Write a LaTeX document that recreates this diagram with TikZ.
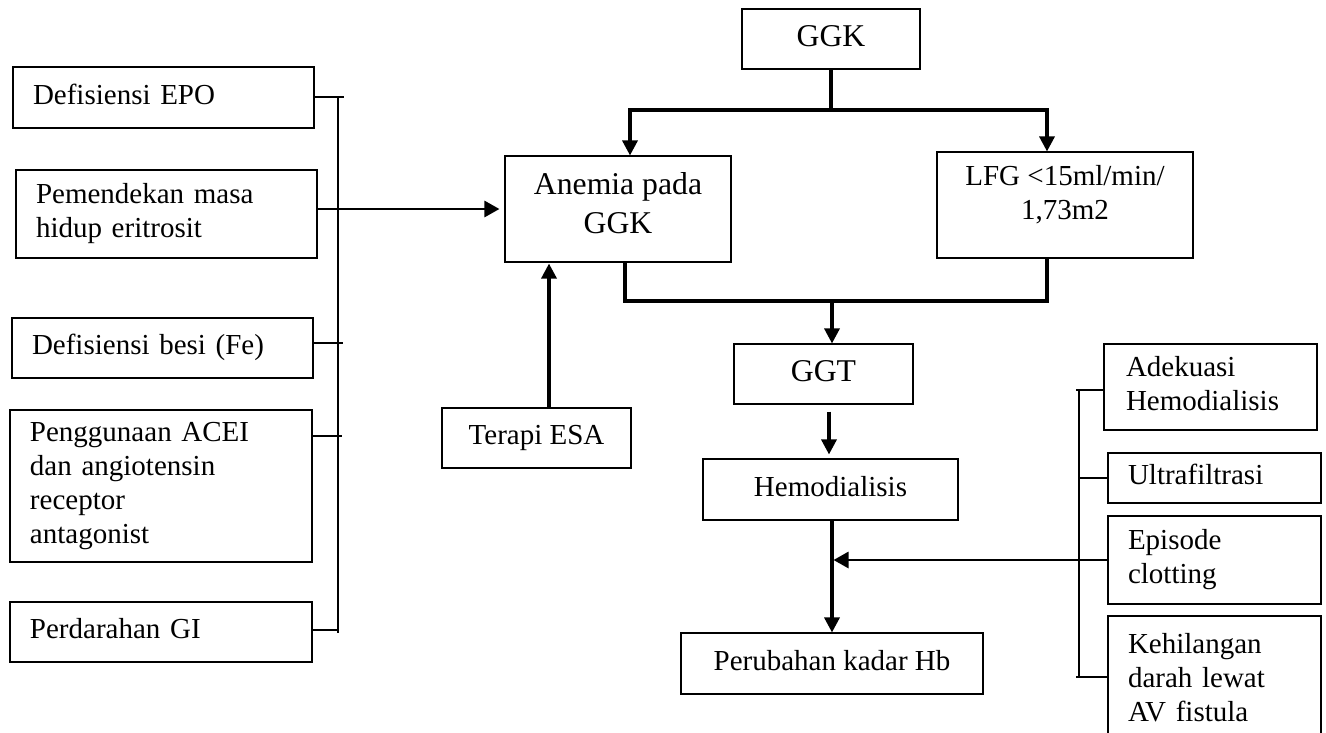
\documentclass[tikz,border=0pt]{standalone}
\usepackage{fontspec}
\setmainfont{Liberation Serif}
\usetikzlibrary{arrows.meta,calc}
\newcommand\fmain{\fontsize{29}{34}\selectfont}
\newcommand\fbig{\fontsize{31.7}{39}\selectfont}
\tikzset{
  boxbase/.style={draw, line width=1.1pt, inner ysep=0pt,
    execute at begin node=\strut, execute at end node=\strut},
  lbox/.style n args={3}{boxbase, font=\fmain, align=left, inner xsep=20pt,
    text width=#1, minimum height=#2, minimum width=#3},
  cbox/.style n args={2}{boxbase, font=\fmain, align=center, inner xsep=2pt,
    minimum width=#1, minimum height=#2},
  bbox/.style n args={2}{boxbase, font=\fbig, align=center, inner xsep=2pt,
    minimum width=#1, minimum height=#2},
  txt/.style={font=\fmain, align=center, inner sep=0pt,
    execute at begin node=\strut, execute at end node=\strut},
  thk/.style={line width=3.3pt},
  thkarrow/.style={line width=3.3pt, -{Triangle[length=15pt,width=15pt]}},
  hzarrow/.style={line width=2.8pt, -{Triangle[length=15pt,width=16pt]}},
  bus/.style={line width=1.8pt},
}
\begin{document}
\begin{tikzpicture}[x=1pt,y=-1pt]
\path[use as bounding box, clip] (0,0) rectangle (1326,732);
\fill[white] (0,0) rectangle (1326,732);

% left causes
\node[lbox={261pt}{61pt}{301pt}] (epo) at (163.5,97.5) {Defisiensi EPO};
\node[lbox={261pt}{88pt}{301pt}] (pem) at (166.5,214) {Pemendekan masa\\hidup eritrosit};
\node[lbox={261pt}{60pt}{301pt}] (besi) at (162.5,348) {Defisiensi besi (Fe)};
\node[lbox={262pt}{152pt}{302pt}] (ace) at (161,486) {Penggunaan ACEI\\dan angiotensin\\receptor\\antagonist};
\node[lbox={262pt}{60pt}{302pt}] (perd) at (161,632) {Perdarahan GI};

% centre
\node[bbox={178pt}{60pt}] (ggk) at (831,39) {GGK};
\node[bbox={226pt}{106pt}] (ane) at (618,209) {Anemia pada\\GGK};
\node[draw, line width=1.1pt, minimum width=256pt, minimum height=106pt, inner sep=0pt] (lfg) at (1065,205) {};
\node[txt] (lfgtxt) at (1065,198) {LFG <15ml/min/\\1,73m2};
\node[cbox={189pt}{60pt}] (esa) at (536.5,438) {Terapi ESA};
\node[bbox={179pt}{60pt}] (ggt) at (823.5,374) {GGT};
\node[cbox={255pt}{61pt}] (hd) at (830.5,489.5) {Hemodialisis};
\node[cbox={302pt}{61pt}] (hb) at (832,663.5) {Perubahan kadar Hb};

% right factors
\node[lbox={169pt}{86pt}{213pt}, inner xsep=22pt] (adk) at (1210.5,387) {Adekuasi\\Hemodialisis};
\node[lbox={173pt}{50pt}{213pt}] (ultra) at (1214.5,478) {Ultrafiltrasi};
\node[lbox={173pt}{88pt}{213pt}] (epi) at (1214.5,560) {Episode\\clotting};
\node[lbox={173pt}{130pt}{213pt}] (kh) at (1214.5,681) {Kehilangan\\darah lewat\\AV fistula};

% left bus
\coordinate (lbt) at (338,97);
\coordinate (lbb) at (338,633);
\draw[bus] (lbt) -- (lbb);
\draw[bus] (epo.east |- lbt) -- ++(29,0);
\draw[bus] (besi.east |- 0,343) -- ++(29,0);
\draw[bus] (ace.east |- 0,436) -- ++(29,0);
\draw[bus] (perd.east |- 0,630) -- ++(26,0);
\draw[hzarrow, shorten >=5pt] (pem.east |- ane.west) -- (ane.west);

% GGK split
\coordinate (j1) at (831,110);
\draw[thk] (ggk.south) -- (j1);
\draw[thkarrow] (j1) -| ([xshift=12pt]ane.north);
\draw[thkarrow] (j1) -| ([xshift=-18pt]lfg.north);

% merge to GGT
\coordinate (j2) at (832,301);
\draw[thk] ([xshift=7pt]ane.south) |- (j2) -| ([xshift=-18pt]lfg.south);
\draw[thkarrow] (j2) -- (j2 |- ggt.north);

% Terapi ESA
\draw[thkarrow, shorten >=1pt] (esa.north -| 549,0) -- (ane.south -| 549,0);

% GGT -> Hemodialisis
\draw[thkarrow, shorten <=7pt, shorten >=4pt] (829,0 |- ggt.south) -- (829,0 |- hd.north);

% Hemodialisis -> Hb
\coordinate (j3) at (832,560);
\draw[thkarrow] (hd.south -| j3) -- (hb.north -| j3);

% right bus
\coordinate (rbt) at (1079,390);
\coordinate (rbb) at (1079,678);
\draw[bus] (rbt) -- (rbb);
\draw[bus] ([xshift=-3pt]rbt) -- (adk.west |- rbt);
\draw[bus] (rbb |- ultra.west) -- (ultra.west);
\draw[bus] (rbb |- epi.west) -- (epi.west);
\draw[bus] ([xshift=-3pt]rbb |- 0,677) -- (kh.west |- 0,677);
\draw[hzarrow, shorten >=1.5pt] (rbb |- epi.west) -- (j3);
\end{tikzpicture}
\end{document}
